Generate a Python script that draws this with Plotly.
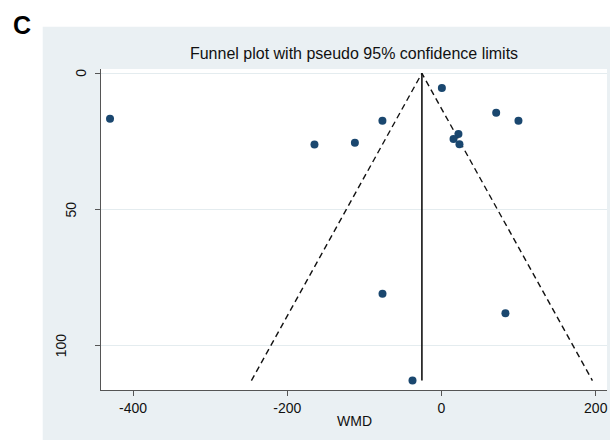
import plotly.graph_objects as go

# Study estimates (WMD) and their standard errors
wmd = [-429.8, -164.7, -112.3, -76.6, 22.0, 15.6, 23.3, 0.5, 70.9, 99.8, -76.5, 82.9, -37.6]
se = [16.7, 26.1, 25.5, 17.4, 22.3, 24.1, 26.0, 5.4, 14.5, 17.4, 80.9, 88.1, 112.8]

pooled = -25.4        # pooled WMD (vertical line)
se_max = 112.8        # max standard error
z95 = 1.96

x_ticks = [-400, -200, 0, 200]
y_ticks = [0, 50, 100]

W, H = 610, 440
L, R, T, B = 101, 3, 69, 50
pw, ph = W - L - R, H - T - B

def px_x(p):
    return (p - L) / pw

def px_y(p):
    return 1 - (p - T) / ph

panel = "#EAF0F3"
font = "Liberation Sans, Arial, sans-serif"

fig = go.Figure()

# pseudo 95% confidence limits
fig.add_trace(go.Scatter(
    x=[pooled - z95 * se_max, pooled, pooled + z95 * se_max],
    y=[se_max, 0, se_max],
    mode="lines", line=dict(color="#111111", width=1.4, dash="6px,4px"),
    hoverinfo="skip", showlegend=False))
# pooled estimate
fig.add_trace(go.Scatter(
    x=[pooled, pooled], y=[0, se_max],
    mode="lines", line=dict(color="#111111", width=1.6),
    hoverinfo="skip", showlegend=False))
# studies
fig.add_trace(go.Scatter(
    x=wmd, y=se, mode="markers",
    marker=dict(color="#1A476F", size=8),
    showlegend=False))

annotations = [
    dict(text="<b>C</b>", xref="paper", yref="paper",
         x=px_x(22), y=px_y(25), xanchor="center", yanchor="middle",
         showarrow=False, font=dict(family=font, size=25, color="black")),
    dict(text="WMD", xref="paper", yref="paper",
         x=0.5, y=px_y(421), xanchor="center", yanchor="middle",
         showarrow=False, font=dict(family=font, size=14, color="#111111")),
]
# rotated y tick labels (staggered as in the source rendering)
for v in y_ticks:
    lab = str(v)
    cx = 92 - 10.5 * len(lab)
    annotations.append(dict(
        text=lab, xref="paper", yref="y", x=px_x(cx), y=v,
        xanchor="center", yanchor="middle", textangle=-90,
        showarrow=False, font=dict(family=font, size=14, color="#111111")))

fig.update_layout(
    width=W, height=H,
    margin=dict(l=L, r=R, t=T, b=B, pad=0),
    paper_bgcolor="white",
    plot_bgcolor="white",
    font=dict(family=font, size=14, color="#111111"),
    title=dict(text="Funnel plot with pseudo 95% confidence limits",
               x=0.5, xref="paper", xanchor="center",
               y=1 - 53 / H, yref="container", yanchor="middle",
               font=dict(family=font, size=16, color="#111111")),
    shapes=[
        dict(type="rect", xref="paper", yref="paper", layer="below",
             x0=px_x(42.7), x1=px_x(615), y0=px_y(26.7), y1=px_y(445),
             fillcolor=panel, line=dict(width=0)),
        dict(type="rect", xref="paper", yref="paper", layer="below",
             x0=0, x1=1, y0=0, y1=1,
             fillcolor="white", line=dict(width=0)),
    ],
    annotations=annotations,
)

fig.update_xaxes(
    range=[-441.5, 214.6], tickvals=x_ticks, ticktext=[str(v) for v in x_ticks],
    showgrid=False, zeroline=False,
    showline=True, linecolor="#555555", linewidth=1.2,
    ticks="outside", ticklen=5, tickcolor="#555555", tickwidth=1.2,
    tickfont=dict(family=font, size=14, color="#111111"),
)
fig.update_yaxes(
    range=[116.26, -1.58], tickvals=y_ticks, showticklabels=False,
    showgrid=True, gridcolor="#E4ECEF", gridwidth=1,
    zeroline=False,
    showline=True, linecolor="#555555", linewidth=1.2,
    ticks="outside", ticklen=5, tickcolor="#555555", tickwidth=1.2,
)

fig.write_html("out.html")
